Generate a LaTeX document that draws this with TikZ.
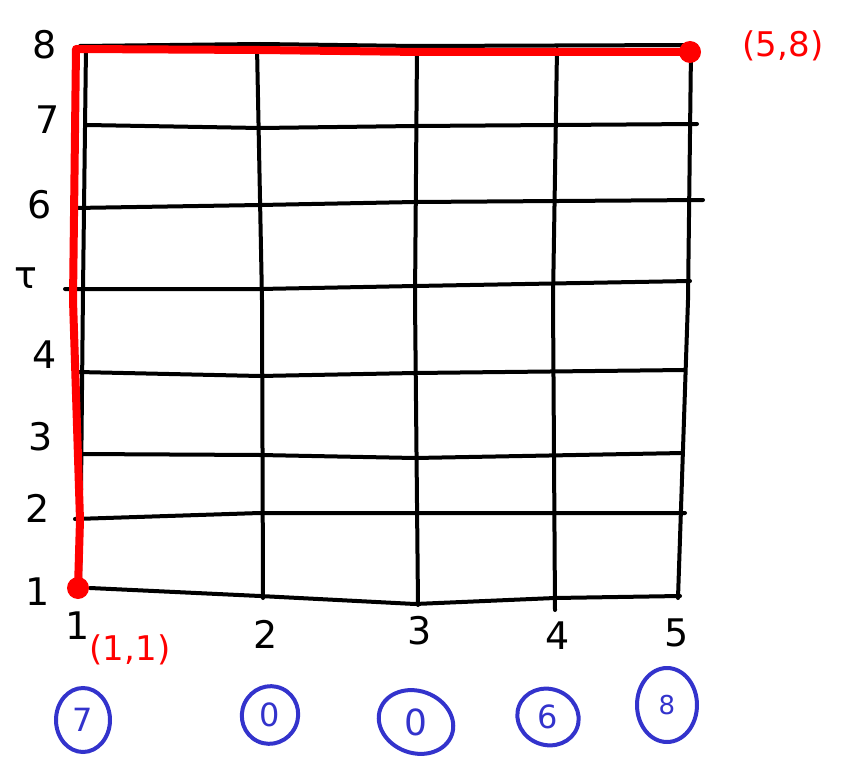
\documentclass[tikz,border=0pt]{standalone}
\usepackage{fontspec}
\setmainfont{DejaVu Sans}
\usetikzlibrary{shapes.geometric}
\definecolor{penblue}{HTML}{3333CC}
\definecolor{penred}{HTML}{FF0000}
\begin{document}
\begin{tikzpicture}[x=1pt,y=-1pt,
  grid/.style={line width=4pt,black,line cap=round,line join=round},
  redpath/.style={line width=8pt,penred,line cap=round,line join=round},
  axlab/.style={font=\fontsize{38}{38}\selectfont,inner sep=0pt},
  redlab/.style={font=\fontsize{34}{34}\selectfont,text=penred,inner sep=0pt},
  bluecirc/.style={draw=penblue,line width=4pt,ellipse,inner sep=0pt},
  bluenum/.style={font=\fontsize{32}{32}\selectfont,text=penblue,inner sep=0pt}]
\useasboundingbox (0,0) rectangle (841,757);
% horizontal lines (rows 8..1)
\draw[grid] (80,46) -- (260,44) -- (415,46) -- (695,45);
\draw[grid] (87,125) -- (260,128) -- (415,126) -- (697,124);
\draw[grid] (75,208) -- (260,205) -- (415,202) -- (703,200);
\draw[grid] (65,289) -- (260,289) -- (415,286) -- (690,281);
\draw[grid] (78,372) -- (260,376) -- (415,373) -- (685,370);
\draw[grid] (80,454) -- (260,455) -- (415,458) -- (683,453);
\draw[grid] (75,519) -- (260,513) -- (415,513) -- (685,513);
\draw[grid] (90,588) -- (260,596) -- (415,604) -- (555,598) -- (680,596);
% vertical lines (cols 1..5)
\draw[grid] (86,47) -- (83,290) -- (80,590);
\draw[grid] (257,47) -- (262,300) -- (263,598);
\draw[grid] (417,47) -- (415,300) -- (418,605);
\draw[grid] (557,49) -- (553,300) -- (555,610);
\draw[grid] (691,50) -- (688,300) -- (678,598);
% y labels
\node[axlab] (y8) at (45,45) {8};
\node[axlab] (y7) at (48,120) {7};
\node[axlab] (y6) at (40,205) {6};
\node[axlab] (y5) at (26,278) {τ};
\node[axlab] (y4) at (45,355) {4};
\node[axlab] (y3) at (41,437) {3};
\node[axlab] (y2) at (38,508) {2};
\node[axlab] (y1) at (38,592) {1};
% x labels
\node[axlab] (x1) at (78,626) {1};
\node[axlab] (x2) at (266,634) {2};
\node[axlab] (x3) at (420,631) {3};
\node[axlab] (x4) at (558,636) {4};
\node[axlab] (x5) at (677,633) {5};
% red path
\coordinate (s) at (78,588);
\coordinate (c) at (76,49);
\coordinate (e) at (690,52);
\draw[redpath] (s) -- (80,520) -- (73,300) -- (c) -- (260,50) -- (420,52) -- (e);
\fill[penred] (s) circle (11);
\fill[penred] (e) circle (11);
\node[redlab] (l11) at (130,650) {(1,1)};
\node[redlab] (l58) at (783,46) {(5,8)};
% blue circled numbers
\node[bluecirc,minimum width=54pt,minimum height=64pt] (b1) at (83,720) {};
\node[bluenum] at (b1) {7};
\node[bluecirc,minimum width=56pt,minimum height=58pt,rotate=-25] (b2) at (270,715) {};
\node[bluenum] at (b2) {0};
\node[bluecirc,minimum width=76pt,minimum height=62pt,rotate=-20] (b3) at (416,722) {};
\node[bluenum,font=\fontsize{36}{36}\selectfont] at (b3) {0};
\node[bluecirc,minimum width=62pt,minimum height=56pt,rotate=-20] (b4) at (548,717) {};
\node[bluenum] at (b4) {6};
\node[bluecirc,minimum width=60pt,minimum height=74pt] (b5) at (667,705) {};
\node[bluenum,font=\fontsize{26}{26}\selectfont] at (b5) {8};
\end{tikzpicture}
\end{document}
